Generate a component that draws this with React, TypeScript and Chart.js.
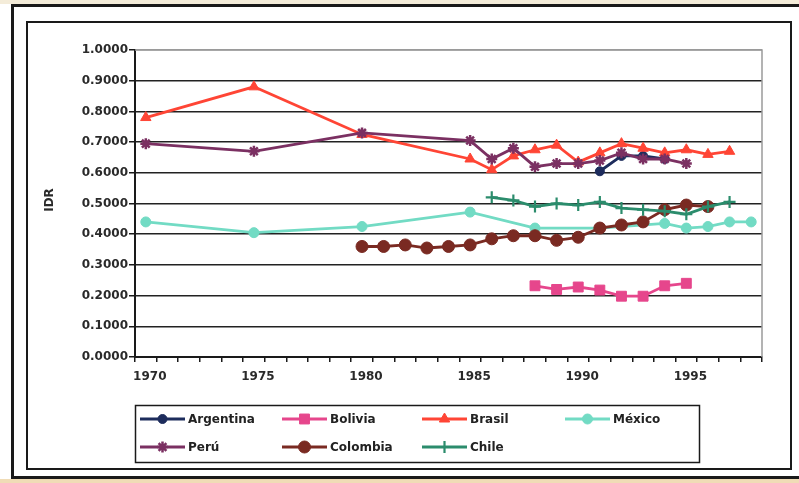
import React, { useEffect, useRef } from 'react';
import { Chart, registerables } from 'chart.js';
import { drawPoint } from 'chart.js/helpers';

Chart.register(...registerables);

const N = null;

const years = [
  '1970', '1971', '1972', '1973', '1974', '1975', '1976', '1977', '1978', '1979',
  '1980', '1981', '1982', '1983', '1984', '1985', '1986', '1987', '1988', '1989',
  '1990', '1991', '1992', '1993', '1994', '1995', '1996', '1997', '1998',
];

const argentina = [N, N, N, N, N, N, N, N, N, N, N, N, N, N, N, N, N, N, N, N, N, 0.605, 0.655, 0.655, 0.645, N, N, N, N];
const bolivia = [N, N, N, N, N, N, N, N, N, N, N, N, N, N, N, N, N, N, 0.232, 0.22, 0.228, 0.218, 0.198, 0.198, 0.232, 0.24, N, N, N];
const brasil = [0.78, N, N, N, N, 0.88, N, N, N, N, 0.725, N, N, N, N, 0.645, 0.61, 0.655, 0.675, 0.69, 0.635, 0.665, 0.695, 0.68, 0.665, 0.675, 0.66, 0.67, N];
const mexico = [0.44, N, N, N, N, 0.405, N, N, N, N, 0.425, N, N, N, N, 0.472, N, N, 0.42, N, N, 0.42, N, N, 0.435, 0.42, 0.425, 0.44, 0.44];
const peru = [0.695, N, N, N, N, 0.67, N, N, N, N, 0.73, N, N, N, N, 0.705, 0.645, 0.68, 0.62, 0.63, 0.63, 0.64, 0.665, 0.645, 0.645, 0.63, N, N, N];
const colombia = [N, N, N, N, N, N, N, N, N, N, 0.36, 0.36, 0.365, 0.355, 0.36, 0.365, 0.385, 0.395, 0.395, 0.38, 0.39, 0.42, 0.43, 0.44, 0.48, 0.495, 0.49, N, N];
const chile = [N, N, N, N, N, N, N, N, N, N, N, N, N, N, N, N, 0.52, 0.51, 0.49, 0.5, 0.495, 0.505, 0.485, 0.48, 0.475, 0.465, 0.49, 0.505, N];

const seriesNames = ['Argentina', 'Bolivia', 'Brasil', 'México', 'Perú', 'Colombia', 'Chile'];
const seriesValues = [argentina, bolivia, brasil, mexico, peru, colombia, chile];

const yTicks = [0, 0.1, 0.2, 0.3, 0.4, 0.5, 0.6, 0.7, 0.8, 0.9, 1.0];

// styles
const colors = ['#1d2c5c', '#e6468c', '#ff4535', '#72dbc4', '#7b3062', '#7a2a22', '#2b8c6c'];
const pStyles = ['circle', 'rect', 'triangle', 'circle', 'star', 'circle', 'cross'];
const pRadius = [4.5, 7, 6, 5, 5.5, 6, 6];
const pBorder = [1, 1, 1, 1, 2.5, 1, 2.2];

const W = 799;
const H = 483;
const FONT = 'DejaVu Sans';

export default function App() {
  const ref = useRef<HTMLCanvasElement>(null);

  useEffect(() => {
    const canvas = ref.current!;

    const deco = {
      id: 'deco',
      beforeDraw(chart: any) {
        const ctx = chart.ctx;
        ctx.save();
        ctx.fillStyle = '#ffffff';
        ctx.fillRect(0, 0, W, H);
        ctx.fillStyle = '#f4ecd9';
        ctx.fillRect(0, 0, W, 4);
        ctx.fillStyle = '#f0dcb6';
        ctx.fillRect(0, 479, W, 4);
        ctx.strokeStyle = '#1a1a1a';
        ctx.lineWidth = 3;
        ctx.strokeRect(12.5, 5.5, 800, 472);
        ctx.lineWidth = 2;
        ctx.strokeRect(27, 22, 764, 447);
        // axis title
        ctx.fillStyle = '#2a2a2a';
        ctx.font = `bold 12px ${FONT}`;
        ctx.textAlign = 'center';
        ctx.textBaseline = 'middle';
        ctx.translate(50, 200);
        ctx.rotate(-Math.PI / 2);
        ctx.fillText('IDR', 0, 0);
        ctx.restore();
      },
      beforeDatasetsDraw(chart: any) {
        const ctx = chart.ctx;
        const a = chart.chartArea;
        ctx.save();
        ctx.strokeStyle = '#9a9a9a';
        ctx.lineWidth = 1.5;
        ctx.beginPath();
        ctx.moveTo(a.left, a.top);
        ctx.lineTo(a.right, a.top);
        ctx.lineTo(a.right, a.bottom);
        ctx.stroke();
        ctx.restore();
      },
      afterDraw(chart: any) {
        const ctx = chart.ctx;
        ctx.save();
        ctx.strokeStyle = '#1a1a1a';
        ctx.lineWidth = 1.5;
        ctx.strokeRect(135.5, 405.5, 564, 57);
        const cols = [140, 282, 422, 565];
        const rows = [419, 447];
        ctx.font = `bold 12px ${FONT}`;
        ctx.textBaseline = 'middle';
        ctx.textAlign = 'left';
        seriesNames.forEach((name, i) => {
          const col = i < 4 ? i : i - 4;
          const row = i < 4 ? 0 : 1;
          const x1 = cols[col];
          const x2 = x1 + 45;
          const y = rows[row];
          ctx.strokeStyle = colors[i];
          ctx.fillStyle = colors[i];
          ctx.lineWidth = 2.8;
          ctx.beginPath();
          ctx.moveTo(x1, y);
          ctx.lineTo(x2, y);
          ctx.stroke();
          ctx.lineWidth = pBorder[i];
          drawPoint(ctx, { pointStyle: pStyles[i] as any, radius: pRadius[i], rotation: 0, borderWidth: pBorder[i] } as any, (x1 + x2) / 2, y);
          ctx.fillStyle = '#222';
          ctx.fillText(name, x2 + 3, y + 0.5);
        });
        ctx.restore();
      },
    };

    const chart = new Chart(canvas, {
      type: 'line',
      data: {
        labels: years,
        datasets: seriesNames.map((name, i) => ({
          label: name,
          data: seriesValues[i],
          borderColor: colors[i],
          backgroundColor: colors[i],
          borderWidth: 2.8,
          pointStyle: pStyles[i] as any,
          pointRadius: pRadius[i],
          pointBorderWidth: pBorder[i],
          pointBackgroundColor: colors[i],
          pointBorderColor: colors[i],
          spanGaps: true,
          tension: 0,
          fill: false,
          order: seriesNames.length - i,
        })),
      },
      options: {
        responsive: false,
        animation: false,
        devicePixelRatio: 1,
        layout: { padding: { left: 0, top: 50, right: 37, bottom: 96 } },
        plugins: {
          legend: { display: false },
          tooltip: { enabled: false },
        },
        scales: {
          x: {
            type: 'category',
            offset: true,
            afterFit: (s: any) => { s.height = 30; },
            border: { display: true, color: '#1a1a1a', width: 2 },
            grid: {
              offset: true,
              drawOnChartArea: false,
              drawTicks: true,
              tickLength: 5,
              color: '#1a1a1a',
              lineWidth: 1.5,
            },
            ticks: {
              autoSkip: false,
              maxRotation: 0,
              minRotation: 0,
              padding: 8,
              labelOffset: 4,
              color: '#2a2a2a',
              font: { family: FONT, size: 12, weight: 'bold' },
              callback: (_v: any, idx: number) => (Number(years[idx]) % 5 === 0 ? years[idx] : ''),
            },
          },
          y: {
            min: 0,
            max: 1,
            afterFit: (s: any) => { s.width = 135; },
            afterBuildTicks: (s: any) => { s.ticks = yTicks.map((v) => ({ value: v })); },
            border: { display: true, color: '#1a1a1a', width: 2 },
            grid: {
              color: (c: any) => (c.tick && c.tick.value === 1 ? '#9a9a9a' : '#222'),
              lineWidth: 1.5,
              tickLength: 6,
              tickColor: '#1a1a1a',
            },
            ticks: {
              padding: 1,
              color: '#2a2a2a',
              font: { family: FONT, size: 12, weight: 'bold' },
              callback: (v: any) => Number(v).toFixed(4),
            },
          },
        },
      },
      plugins: [deco],
    });

    return () => chart.destroy();
  }, []);

  return (
    <div style={{ position: 'fixed', left: 0, top: 0, width: W, height: H }}>
      <canvas ref={ref} width={W} height={H} style={{ width: W, height: H, display: 'block' }} />
    </div>
  );
}
